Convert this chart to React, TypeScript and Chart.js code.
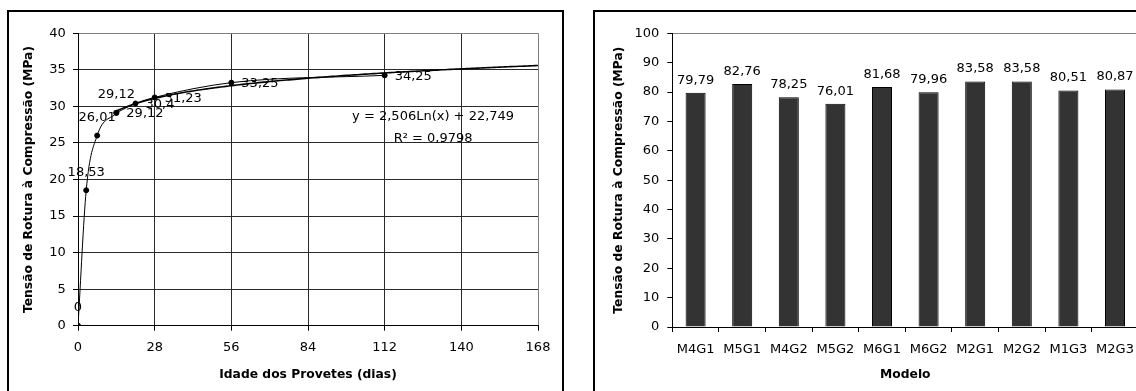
import React, { useEffect, useRef } from "react";
import { Chart, registerables } from "chart.js";

Chart.register(...registerables);

// ---- Left chart data (age in days, compressive strength in MPa) ----
const ageEarly = [0, 3, 7, 14];
const strengthEarly = [0, 18.53, 26.01, 29.12];
const ageLate = [14, 21, 28, 56, 112];
const strengthLate = [29.12, 30.4, 31.23, 33.25, 34.25];
const ageTicksMax = 168;
const ageTickStep = 28;
const strengthTickMax = 40;
const strengthTickStep = 5;
const trendEquation = "y = 2,506Ln(x) + 22,749";
const trendR2 = "R² = 0,9798";

// ---- Right chart data ----
const models = ["M4G1", "M5G1", "M4G2", "M5G2", "M6G1", "M6G2", "M2G1", "M2G2", "M1G3", "M2G3"];
const modelStrength = [79.79, 82.76, 78.25, 76.01, 81.68, 79.96, 83.58, 83.58, 80.51, 80.87];
const barTickMax = 100;
const barTickStep = 10;

const yTitle = "Tensão de Rotura à Compressão (MPa)";
const FONT = "'DejaVu Sans', 'Liberation Sans', sans-serif";

const fmt = (v: number) => String(v).replace(".", ",");

// Logarithmic least-squares fit of the later series (Excel trendline)
function logFit(xs: number[], ys: number[]) {
  const lx = xs.map((x) => Math.log(x));
  const n = xs.length;
  const mx = lx.reduce((a, b) => a + b, 0) / n;
  const my = ys.reduce((a, b) => a + b, 0) / n;
  let sxy = 0, sxx = 0;
  for (let i = 0; i < n; i++) {
    sxy += (lx[i] - mx) * (ys[i] - my);
    sxx += (lx[i] - mx) * (lx[i] - mx);
  }
  const a = sxy / sxx;
  return { a, b: my - a * mx };
}

const pointLabelPlugin = {
  id: "pointLabels",
  afterDatasetsDraw(chart: any) {
    const ctx = chart.ctx;
    ctx.save();
    ctx.font = `13px ${FONT}`;
    ctx.fillStyle = "#000";
    ctx.textBaseline = "middle";
    chart.data.datasets.forEach((ds: any, i: number) => {
      if (!ds.labelPos) return;
      const meta = chart.getDatasetMeta(i);
      meta.data.forEach((el: any, j: number) => {
        const v = ds.data[j].y;
        const t = fmt(v);
        if (ds.labelPos === "above") {
          ctx.textAlign = "center";
          ctx.fillText(t, el.x, el.y - 18);
        } else {
          ctx.textAlign = "left";
          ctx.fillText(t, el.x + 10, el.y + 1);
        }
      });
    });
    ctx.restore();
  },
};

const equationPlugin = {
  id: "equation",
  afterDatasetsDraw(chart: any) {
    const { ctx, chartArea } = chart;
    const cx = chartArea.left + (chartArea.right - chartArea.left) * 0.772;
    ctx.save();
    ctx.font = `13px ${FONT}`;
    ctx.fillStyle = "#000";
    ctx.textAlign = "center";
    ctx.textBaseline = "middle";
    ctx.fillText(trendEquation, cx, chartArea.top + 83);
    ctx.fillText(trendR2, cx, chartArea.top + 105);
    ctx.restore();
  },
};

const barLabelPlugin = {
  id: "barLabels",
  afterDatasetsDraw(chart: any) {
    const ctx = chart.ctx;
    ctx.save();
    ctx.font = `13px ${FONT}`;
    ctx.fillStyle = "#000";
    ctx.textAlign = "center";
    ctx.textBaseline = "middle";
    const meta = chart.getDatasetMeta(0);
    meta.data.forEach((el: any, j: number) => {
      ctx.fillText(fmt(chart.data.datasets[0].data[j]), el.x, el.y - 12.5);
    });
    ctx.restore();
  },
};

const tickFont = { family: FONT, size: 13 };
const titleFont = { family: FONT, size: 12.3, weight: "bold" as const };

function LeftChart() {
  const ref = useRef<HTMLCanvasElement>(null);
  useEffect(() => {
    const fit = logFit(ageLate, strengthLate);
    const trend: { x: number; y: number }[] = [];
    for (let x = ageLate[0]; x <= ageTicksMax; x += 1) {
      trend.push({ x, y: fit.a * Math.log(x) + fit.b });
    }
    const chart = new Chart(ref.current!, {
      type: "scatter",
      data: {
        datasets: [
          {
            data: ageEarly.map((x, i) => ({ x, y: strengthEarly[i] })),
            showLine: true,
            borderColor: "#000",
            borderWidth: 1,
            pointRadius: 2.5,
            pointBackgroundColor: "#000",
            pointBorderColor: "#000",
            cubicInterpolationMode: "monotone",
            labelPos: "above",
          } as any,
          {
            data: ageLate.map((x, i) => ({ x, y: strengthLate[i] })),
            showLine: true,
            borderColor: "#000",
            borderWidth: 1,
            pointRadius: 2.5,
            pointBackgroundColor: "#000",
            pointBorderColor: "#000",
            cubicInterpolationMode: "monotone",
            labelPos: "right",
          } as any,
          {
            data: trend,
            showLine: true,
            borderColor: "#000",
            borderWidth: 1.6,
            pointRadius: 0,
          } as any,
        ],
      },
      options: {
        responsive: false,
        animation: false,
        devicePixelRatio: 1,
        layout: { padding: { left: 0, top: 21.3, right: 24, bottom: 0 } },
        plugins: { legend: { display: false }, tooltip: { enabled: false } },
        scales: {
          x: {
            type: "linear",
            min: 0,
            max: ageTicksMax,
            ticks: { stepSize: ageTickStep, padding: 9, font: tickFont, color: "#000", autoSkip: false, maxRotation: 0 },
            grid: {
              color: (c: any) => (c.tick && c.tick.value === ageTicksMax ? "#808080" : "#2a2a2a"),
              tickColor: "#000",
              tickLength: 5,
            },
            border: { color: "#000", width: 1 },
            title: { display: true, text: "Idade dos Provetes (dias)", font: titleFont, color: "#000", padding: { top: 0, bottom: 9.3 } },
            afterFit: (s: any) => {
              s.height = 65.3;
              s.paddingLeft = 0;
              s.paddingRight = 0;
            },
          },
          y: {
            type: "linear",
            min: 0,
            max: strengthTickMax,
            ticks: { stepSize: strengthTickStep, padding: 7.3, font: tickFont, color: "#000" },
            grid: {
              color: (c: any) => (c.tick && c.tick.value === strengthTickMax ? "#808080" : "#2a2a2a"),
              tickColor: "#000",
              tickLength: 5,
            },
            border: { color: "#000", width: 1 },
            title: { display: true, text: yTitle, font: titleFont, color: "#000", padding: { top: 12.6, bottom: 0 } },
            afterFit: (s: any) => {
              s.width = 69;
              s.paddingTop = 0;
              s.paddingBottom = 0;
            },
          },
        },
      } as any,
      plugins: [pointLabelPlugin, equationPlugin],
    });
    return () => chart.destroy();
  }, []);
  return <canvas ref={ref} width={553} height={379} style={{ position: "absolute", left: 9, top: 12, width: 553, height: 379 }} />;
}

function RightChart() {
  const ref = useRef<HTMLCanvasElement>(null);
  useEffect(() => {
    const chart = new Chart(ref.current!, {
      type: "bar",
      data: {
        labels: models,
        datasets: [
          {
            data: modelStrength,
            backgroundColor: "#333333",
            borderColor: "#000",
            borderWidth: 1,
            categoryPercentage: 1,
            barPercentage: 0.43,
          },
        ],
      },
      options: {
        responsive: false,
        animation: false,
        devicePixelRatio: 1,
        layout: { padding: { left: 0, top: 21.3, right: 21.7, bottom: 0 } },
        plugins: { legend: { display: false }, tooltip: { enabled: false } },
        scales: {
          x: {
            type: "category",
            ticks: { padding: 10.2, font: tickFont, color: "#000", autoSkip: false, maxRotation: 0 },
            grid: { offset: true, drawOnChartArea: false, tickColor: "#000", tickLength: 5, color: "#000" },
            border: { color: "#000", width: 1 },
            title: { display: true, text: "Modelo", font: titleFont, color: "#000", padding: { top: 0, bottom: 8.6 } },
            afterFit: (s: any) => {
              s.height = 64;
              s.paddingLeft = 0;
              s.paddingRight = 0;
            },
          },
          y: {
            type: "linear",
            min: 0,
            max: barTickMax,
            ticks: { stepSize: barTickStep, padding: 8, font: tickFont, color: "#000" },
            grid: {
              color: (c: any) => (c.tick && c.tick.value === barTickMax ? "#808080" : "rgba(0,0,0,0)"),
              tickColor: "#000",
              tickLength: 5,
            },
            border: { color: "#000", width: 1 },
            title: { display: true, text: yTitle, font: titleFont, color: "#000", padding: { top: 16.6, bottom: 0 } },
            afterFit: (s: any) => {
              s.width = 77.3;
              s.paddingTop = 0;
              s.paddingBottom = 0;
            },
          },
        },
      } as any,
      plugins: [barLabelPlugin],
    });
    return () => chart.destroy();
  }, []);
  return <canvas ref={ref} width={565} height={379} style={{ position: "absolute", left: 595, top: 12, width: 565, height: 379 }} />;
}

export default function App() {
  return (
    <div style={{ position: "fixed", left: 0, top: 0, width: 1136, height: 391, overflow: "hidden", background: "#fff" }}>
      <div style={{ position: "absolute", left: 7, top: 10, width: 557, height: 420, border: "2px solid #000", boxSizing: "border-box" }} />
      <div style={{ position: "absolute", left: 593, top: 10, width: 620, height: 420, border: "2px solid #000", boxSizing: "border-box" }} />
      <LeftChart />
      <RightChart />
    </div>
  );
}
